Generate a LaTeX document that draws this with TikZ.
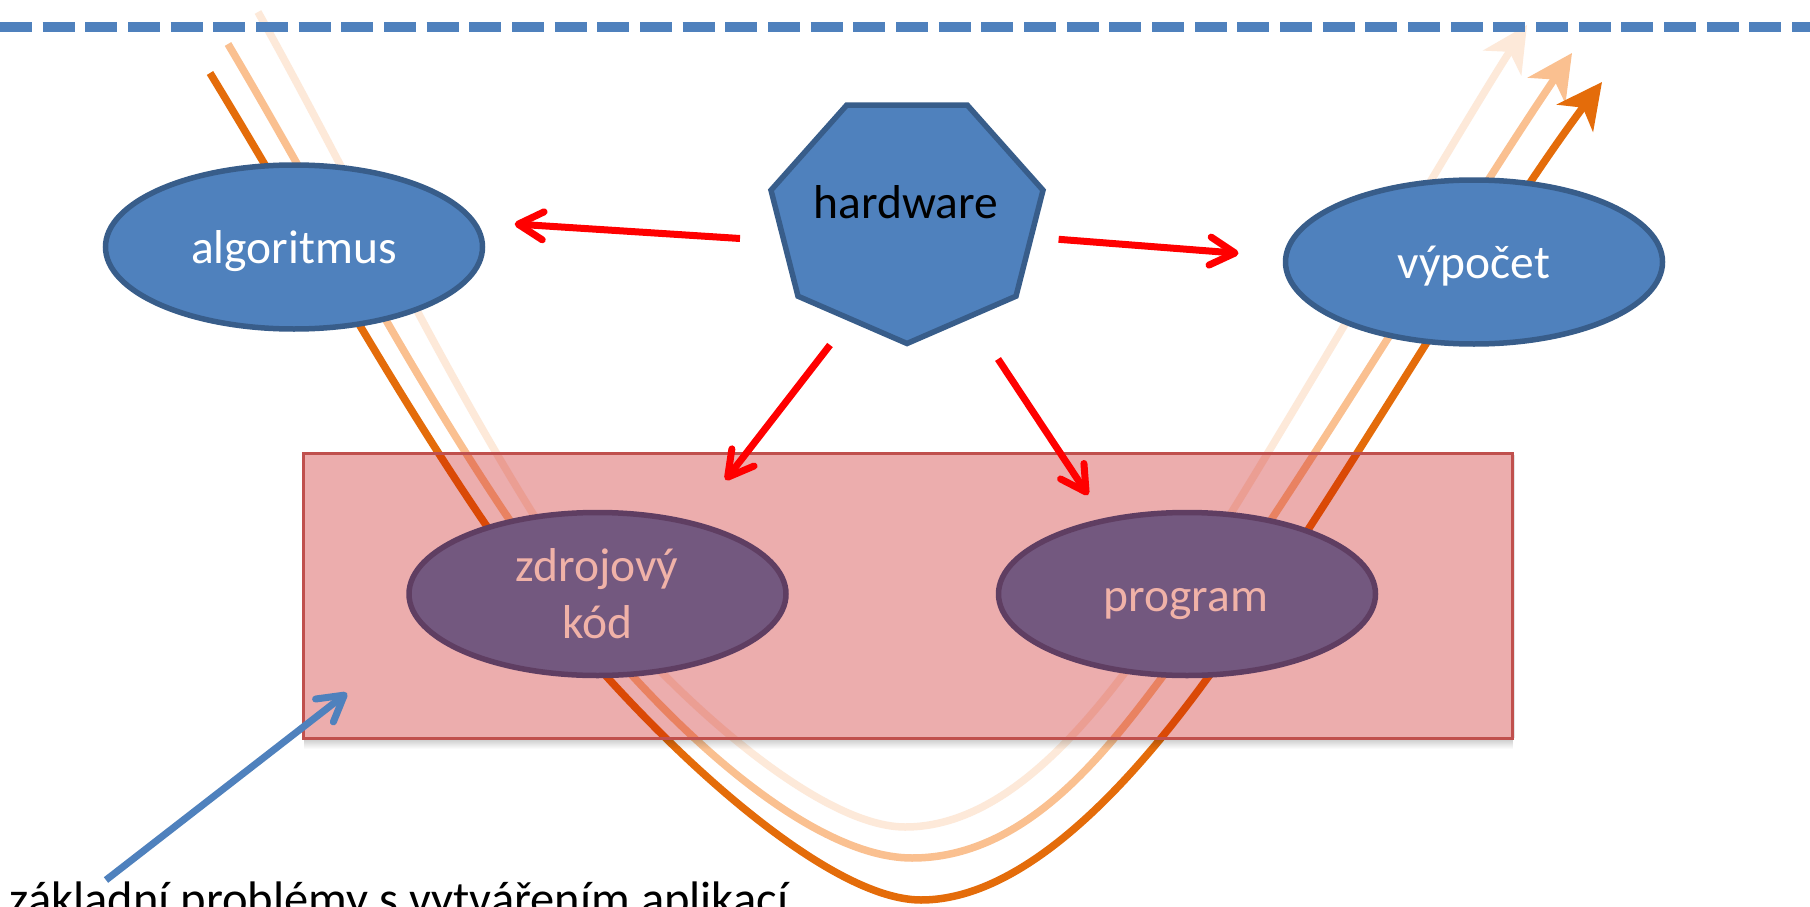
\documentclass[tikz,border=0pt]{standalone}
\usepackage{fontspec}
\setmainfont{Carlito}
\usetikzlibrary{arrows.meta,fadings,shapes.geometric}
\definecolor{bluefill}{HTML}{4F81BD}
\definecolor{blueline}{HTML}{385D8A}
\definecolor{purfill}{HTML}{73587F}
\definecolor{purline}{HTML}{5F3E62}
\definecolor{purtext}{HTML}{F0B2A8}
\definecolor{darkor}{HTML}{E46C0A}
\definecolor{midor}{HTML}{FAC090}
\definecolor{lightor}{HTML}{FDE9D9}
\definecolor{rectfill}{RGB}{198,0,0}
\definecolor{rectline}{HTML}{C0504D}
\definecolor{arrred}{HTML}{FF0000}
\begin{document}
\begin{tikzpicture}[x=1pt,y=-1pt,
  bigfont/.style={font=\fontsize{47.5}{57}\selectfont},
  blueell/.style={ellipse, draw=blueline, fill=bluefill, line width=5.5pt, minimum width=377pt, minimum height=164pt, inner sep=0pt},
  purell/.style={ellipse, draw=purline, fill=purfill, line width=5.5pt, minimum width=377pt, minimum height=163pt, inner sep=0pt},
  hept/.style={draw=blueline, fill=bluefill, line width=5.5pt, line join=miter},
  curve/.style={line width=7.5pt, -{Stealth[length=45pt,width=45pt,inset=13pt]}},
  redarr/.style={draw=arrred, line width=7pt, -{Straight Barb[length=25pt,width=28pt,round]}},
  bluearr/.style={draw=bluefill, line width=7pt, -{Straight Barb[length=25pt,width=29pt,round]}},
  lbl/.style={bigfont, anchor=base, inner sep=0pt}
]
\useasboundingbox (0,0) rectangle (1810,907);
\clip (0,0) rectangle (1810,907);
\fill[white] (0,0) rectangle (1810,907);

% curves (bottom layer)
\coordinate (l0) at (258,12);  \coordinate (l9) at (1527,25);
\coordinate (m0) at (228,44);  \coordinate (m9) at (1572,53);
\coordinate (d0) at (210,73);  \coordinate (d9) at (1602,82);
\draw[curve, lightor] (l0) .. controls (353,182) and (436,360) .. (540,525)
  .. controls (621.75,650.7) and (805,827) .. (905,827)
  .. controls (1035,827) and (1142.9,654.5) .. (1233,510)
  .. controls (1286,425) and (1472.3,108.7) .. (l9);
\draw[curve, midor] (m0) .. controls (322.7,204.1) and (408.5,371.2) .. (513,525)
  .. controls (625.4,690.4) and (797,858) .. (912,858)
  .. controls (1022,858) and (1100,760) .. (1160,680)
  .. controls (1280,520) and (1459.6,218.4) .. (m9);
\draw[curve, darkor] (d0) .. controls (302,224) and (386.5,379) .. (486,525)
  .. controls (598.4,690.4) and (811,900) .. (921,900)
  .. controls (1031,900) and (1141.1,768.8) .. (1206,680)
  .. controls (1324,518.6) and (1482,242) .. (d9);

% blue shapes
\node[blueell] (alg) at (294,247) {};
\node[blueell] (vyp) at (1474,262) {};
\draw[hept] (846.8,105) -- (967.2,105) -- (1043,190.2) -- (1016,296.2) -- (907,343.5) -- (798,296.2) -- (771,190.2) -- cycle;
\coordinate (hw) at (907,218);

% translucent box with shadow
\fill[black, opacity=0.22, path fading=south] (305,738) rectangle (1516,749);
\fill[black, opacity=0.10] (1512,455) rectangle (1515,738);
\node[draw=rectline, line width=3pt, fill=rectfill, fill opacity=0.32, minimum width=1209pt, minimum height=285pt, inner sep=0pt, anchor=north west] (box) at (302,452) {};

% purple ellipses
\node[purell] (zdr) at (597.5,594) {};
\node[purell] (prg) at (1187,594) {};

% labels
\node[lbl, text=white] (algt) at (294,263.3) {algoritmus};
\node[lbl, text=white] (vypt) at (1474,278.3) {výpočet};
\node[lbl, text=black] (hwt) at (906,218.3) {hardware};
\node[lbl, text=purtext] (zdrt1) at (597,581.7) {zdrojový};
\node[lbl, text=purtext] (zdrt2) at (597,638.3) {kód};
\node[lbl, text=purtext] (prgt) at (1186,611.7) {program};
\node[font=\fontsize{48.5}{58}\selectfont, text=black, anchor=base west, inner sep=0pt] (capt) at (9.5,915) {základní problémy s vytvářením aplikací};

% red arrows from hardware
\coordinate (hwA) at (740,238.5);  \coordinate (algE) at (514.7,224);
\coordinate (hwB) at (1058.6,239.3); \coordinate (vypE) at (1238.5,253.3);
\coordinate (hwC) at (830,345);  \coordinate (zdrE) at (725.5,480);
\coordinate (hwD) at (998,359);  \coordinate (prgE) at (1088,495);
\draw[redarr] (hwA) -- (algE);
\draw[redarr] (hwB) -- (vypE);
\draw[redarr] (hwC) -- (zdrE);
\draw[redarr] (hwD) -- (prgE);

% blue pointer arrow
\coordinate (capA) at (106,880);
\coordinate (boxP) at (347,693);
\draw[bluearr] (capA) -- (boxP);

% dashed top line
\coordinate (dl) at (0,27.3);
\coordinate (dr) at (1810,27.3);
\draw[bluefill, line width=10pt, dash pattern=on 32pt off 10.67pt] (dl) -- (dr);
\end{tikzpicture}
\end{document}
